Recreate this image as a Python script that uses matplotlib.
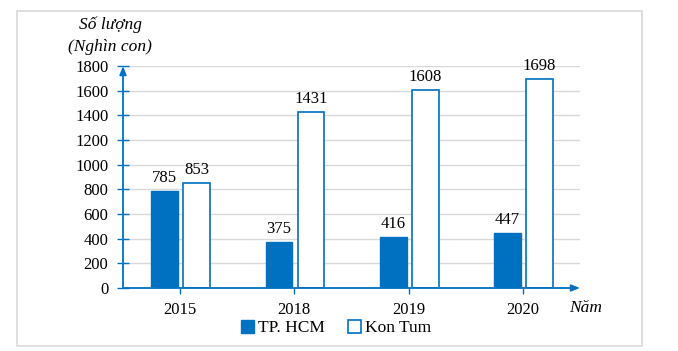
import matplotlib
matplotlib.use("Agg")
import matplotlib.pyplot as plt
from matplotlib.patches import Rectangle
import numpy as np

years = ["2015", "2018", "2019", "2020"]
hcm = [785, 375, 416, 447]
kontum = [853, 1431, 1608, 1698]
yticks = [0, 200, 400, 600, 800, 1000, 1200, 1400, 1600, 1800]

plt.rcParams['font.family'] = ['Liberation Serif', 'DejaVu Serif']
blue = '#0070C0'

W, H = 678, 351
fig = plt.figure(figsize=(W/100, H/100), dpi=100)
# figure border
fig.patches.append(Rectangle((17/W, 1-346/H), (642-17)/W, (346-11)/H,
                             transform=fig.transFigure, fill=False,
                             edgecolor='#D9D9D9', linewidth=1.2))

ax = fig.add_axes([123/W, 1-288/H, (580-123)/W, (288-66)/H])
x = np.arange(len(years))
bw = 0.235
ax.bar(x - 0.135, hcm, width=bw, color=blue, edgecolor=blue, linewidth=1, label='TP. HCM', zorder=3)
ax.bar(x + 0.145, kontum, width=bw, color='white', edgecolor=blue, linewidth=1.2, label='Kon Tum', zorder=3)

fs = 12
for xi, v in zip(x, hcm):
    ax.text(xi - 0.135, v + 40, str(v), ha='center', va='bottom', fontsize=fs)
for xi, v in zip(x, kontum):
    ax.text(xi + 0.145, v + 40, str(v), ha='center', va='bottom', fontsize=fs)

ax.set_xlim(-0.5, 3.5)
ax.set_ylim(0, 1800)
ax.set_yticks(yticks)
ax.set_yticklabels([str(t) for t in yticks], fontsize=fs)
ax.set_xticks(x)
ax.set_xticklabels(years, fontsize=fs)
for s in ax.spines.values():
    s.set_visible(False)
ax.grid(axis='y', color='#D9D9D9', linewidth=1, zorder=0)
ax.set_axisbelow(True)
ax.tick_params(axis='y', direction='inout', length=9, color=blue, width=1, pad=6)
ax.tick_params(axis='x', direction='out', length=4, color=blue, width=1, pad=6)

# axes with arrows
ax.annotate('', xy=(3.5, 0), xytext=(-0.5, 0), xycoords='data',
            arrowprops=dict(arrowstyle='-|>,head_length=0.5,head_width=0.2', color=blue, lw=1.3,
                            shrinkA=0, shrinkB=0), annotation_clip=False, zorder=5)
ax.annotate('', xy=(-0.5, 1800), xytext=(-0.5, 0), xycoords='data',
            arrowprops=dict(arrowstyle='-|>,head_length=0.5,head_width=0.2', color=blue, lw=1.3,
                            shrinkA=0, shrinkB=0), annotation_clip=False, zorder=5)

fig.text(110/W, 1-25/H, 'Số lượng', ha='center', va='center', fontsize=12.5, style='italic')
fig.text(110/W, 1-47/H, '(Nghìn con)', ha='center', va='center', fontsize=12.5, style='italic')
fig.text(586/W, 1-308/H, 'Năm', ha='center', va='center', fontsize=12.5, style='italic')

leg = fig.legend(loc='center', bbox_to_anchor=(336/W, 1-328/H), ncol=2, frameon=False,
                 fontsize=12.5, handlelength=0.75, handleheight=0.75, handletextpad=0.25,
                 columnspacing=1.3)

fig.savefig('out.png', dpi=100)
